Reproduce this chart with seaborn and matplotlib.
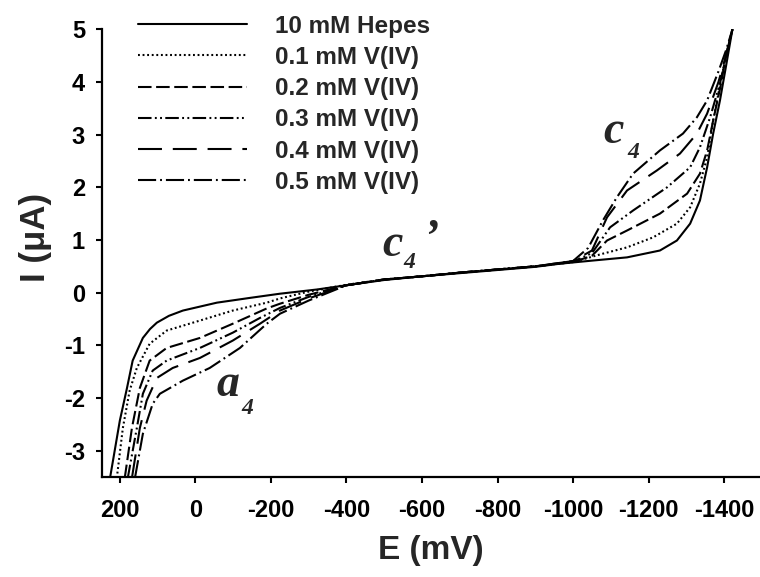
import matplotlib
matplotlib.use("Agg")
import matplotlib.pyplot as plt
import seaborn as sns

# Linear sweep voltammograms: potential E (mV) vs current I (uA)
series_labels = ["10 mM Hepes", "0.1 mM V(IV)", "0.2 mM V(IV)",
                 "0.3 mM V(IV)", "0.4 mM V(IV)", "0.5 mM V(IV)"]

E_hepes = [226, 200, 181, 166, 139, 120, 102, 70, 33, -57, -144, -224, -322, -409,
           -500, -600, -700, -800, -900, -966, -1053, -1143, -1230, -1275, -1310,
           -1336, -1355, -1371, -1389, -1405, -1422]
I_hepes = [-3.52, -2.43, -1.81, -1.29, -0.86, -0.69, -0.57, -0.44, -0.34, -0.19,
           -0.10, -0.02, 0.06, 0.15, 0.24, 0.31, 0.37, 0.43, 0.49, 0.55, 0.61,
           0.67, 0.80, 0.99, 1.31, 1.75, 2.38, 3.02, 3.65, 4.30, 5.00]

E_v01 = [208, 192, 174, 155, 121, 76, -12, -99, -189, -224, -300, -400, -500,
         -600, -700, -800, -900, -1000, -1079, -1143, -1212, -1275, -1310,
         -1336, -1355, -1371, -1390, -1405, -1422]
I_v01 = [-3.52, -2.57, -1.86, -1.43, -0.97, -0.72, -0.53, -0.34, -0.19, -0.11,
         0.02, 0.15, 0.25, 0.31, 0.38, 0.44, 0.50, 0.58, 0.74, 0.86, 1.05, 1.31,
         1.62, 2.07, 2.57, 3.27, 3.97, 4.50, 5.00]

E_v02 = [187, 168, 147, 121, 76, -12, -99, -189, -224, -300, -400, -500, -600,
         -700, -800, -900, -1000, -1050, -1090, -1143, -1230, -1302, -1336,
         -1355, -1371, -1390, -1405, -1422]
I_v02 = [-3.52, -2.57, -1.81, -1.29, -1.05, -0.86, -0.59, -0.30, -0.21, -0.04,
         0.14, 0.25, 0.31, 0.38, 0.44, 0.50, 0.58, 0.70, 0.99, 1.18, 1.50, 1.88,
         2.26, 2.70, 3.27, 3.90, 4.50, 5.00]

E_v03 = [179, 155, 139, 113, 76, -12, -99, -171, -224, -300, -400, -500, -600,
         -700, -800, -900, -1000, -1050, -1098, -1159, -1249, -1310, -1336,
         -1363, -1390, -1405, -1422]
I_v03 = [-3.52, -2.57, -1.92, -1.48, -1.29, -1.05, -0.76, -0.48, -0.29, -0.08,
         0.14, 0.25, 0.31, 0.38, 0.44, 0.50, 0.59, 0.75, 1.24, 1.56, 2.00, 2.38,
         2.76, 3.33, 4.00, 4.50, 5.00]

E_v04 = [168, 147, 129, 102, 60, -12, -99, -171, -224, -300, -400, -500, -600,
         -700, -800, -900, -1000, -1050, -1090, -1143, -1222, -1283, -1328,
         -1355, -1385, -1405, -1422]
I_v04 = [-3.52, -2.57, -2.05, -1.62, -1.43, -1.24, -0.91, -0.59, -0.34, -0.11,
         0.14, 0.25, 0.31, 0.38, 0.44, 0.50, 0.60, 0.80, 1.43, 1.94, 2.32, 2.64,
         3.02, 3.40, 4.00, 4.50, 5.00]

E_v05 = [160, 139, 113, 94, 33, -38, -118, -189, -224, -300, -400, -500, -600,
         -700, -800, -900, -1000, -1040, -1079, -1116, -1159, -1230, -1291,
         -1328, -1355, -1385, -1405, -1422]
I_v05 = [-3.52, -2.68, -2.11, -1.92, -1.67, -1.43, -1.05, -0.59, -0.40, -0.15,
         0.14, 0.25, 0.31, 0.38, 0.44, 0.50, 0.60, 0.85, 1.37, 1.81, 2.26, 2.70,
         3.02, 3.33, 3.65, 4.20, 4.60, 5.00]

x_ticks = [200, 0, -200, -400, -600, -800, -1000, -1200, -1400]
y_ticks = [-3, -2, -1, 0, 1, 2, 3, 4, 5]

sns.set_style("ticks")
plt.rcParams["font.family"] = ["Liberation Sans", "DejaVu Sans"]
plt.rcParams["font.weight"] = "bold"
plt.rcParams["axes.labelweight"] = "bold"

line_styles = [
    "-",
    (0, (0.9, 1.3)),
    (0, (6.5, 2.2)),
    (0, (6.5, 1.6, 0.9, 1.6, 0.9, 1.6)),
    (0, (11.5, 5.2)),
    (0, (8.7, 1.9, 0.9, 1.9)),
]

fig = plt.figure(figsize=(7.6, 5.77), dpi=100)
ax = fig.add_axes([101.7 / 760, 1 - 477 / 577, 1 - 101.7 / 760, (477 - 29.3) / 577])

curves = [(E_hepes, I_hepes), (E_v01, I_v01), (E_v02, I_v02),
          (E_v03, I_v03), (E_v04, I_v04), (E_v05, I_v05)]
for (E, I), name, ls in zip(curves, series_labels, line_styles):
    sns.lineplot(x=E, y=I, ax=ax, color="black", linewidth=1.5, linestyle=ls,
                 sort=False, estimator=None, label=name)

ax.set_xlim(248, -1495)
ax.set_ylim(-3.5, 5)
ax.set_xticks(x_ticks)
ax.set_xticklabels([str(v) for v in x_ticks])
ax.set_yticks(y_ticks)
ax.set_yticklabels([str(v) for v in y_ticks])

for side in ["top", "right"]:
    ax.spines[side].set_visible(False)
for side in ["left", "bottom"]:
    ax.spines[side].set_linewidth(1.6)
    ax.spines[side].set_color("black")
ax.tick_params(axis="both", direction="out", length=4, width=1.5, color="black",
               labelsize=17, labelcolor="black")
ax.tick_params(axis="x", pad=12)
ax.tick_params(axis="y", pad=8)

ax.set_xlabel("E (mV)", fontsize=24, fontweight="bold")
ax.set_ylabel("I (μA)", fontsize=25, fontweight="bold")
ax.xaxis.set_label_coords(0.5, (477 - 550) / 447.7)
ax.xaxis.label.set_va("center")
ax.yaxis.set_label_coords((35 - 101.7) / 658.3, 0.535)
ax.yaxis.label.set_va("center")

handles = ax.get_lines()[:6]
leg = ax.legend(handles, series_labels, loc="upper left",
                bbox_to_anchor=(138 / 760, 1 - 14.5 / 577),
                bbox_transform=fig.transFigure, frameon=False,
                prop={"weight": "bold", "size": 17.5},
                handlelength=4.5, handletextpad=1.15, labelspacing=0.34,
                borderpad=0, borderaxespad=0)

# Peak labels
serif = {"family": ["Liberation Serif", "DejaVu Serif"], "weight": "bold",
         "style": "italic"}
ax.text(-1079, 2.85, "c", fontsize=33, ha="left", va="baseline", **serif)
ax.text(-1143, 2.55, "4", fontsize=17, ha="left", va="baseline", **serif)
ax.text(-494, 0.70, "c", fontsize=33, ha="left", va="baseline", **serif)
ax.text(-550, 0.46, "4", fontsize=17, ha="left", va="baseline", **serif)
ax.text(-603, 0.80, "\u2019", fontsize=33, ha="left", va="baseline", **serif)
ax.text(-57, -1.96, "a", fontsize=33, ha="left", va="baseline", **serif)
ax.text(-123, -2.30, "4", fontsize=17, ha="left", va="baseline", **serif)

fig.savefig("out.png", dpi=100)
